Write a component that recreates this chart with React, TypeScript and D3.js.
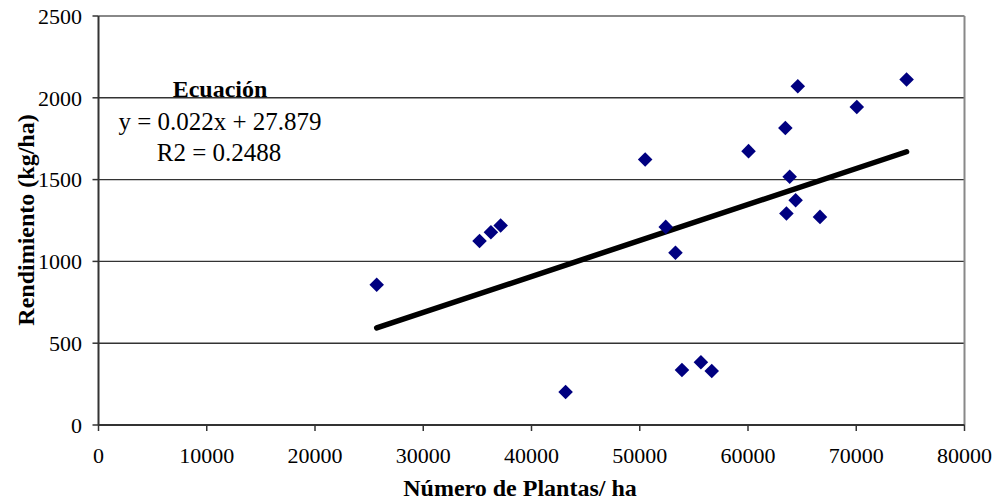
import React from "react";
import * as d3 from "d3";

const plantas: number[] = [25700, 35200, 36250, 37150, 43150, 50500, 52400, 53300, 53900, 55650, 56650, 60050, 63450, 63550, 63850, 64400, 64600, 66650, 70050, 74650];
const rendimiento: number[] = [857, 1125, 1178, 1220, 202, 1623, 1211, 1053, 336, 383, 330, 1674, 1816, 1293, 1517, 1374, 2071, 1272, 1944, 2112];
const xTicks: number[] = [0, 10000, 20000, 30000, 40000, 50000, 60000, 70000, 80000];
const yTicks: number[] = [0, 500, 1000, 1500, 2000, 2500];
const slope = 0.022;
const intercept = 27.879;
const eqTitle = "Ecuación";
const eqLine = "y = 0.022x + 27.879";
const r2Line = "R2 = 0.2488";
const xTitle = "Número de Plantas/ ha";
const yTitle = "Rendimiento (kg/ha)";

export default function App() {
  const W = 997, H = 500;
  const left = 98.5, right = 964.5, top = 16, bottom = 425;
  const x = d3.scaleLinear().domain([0, 80000]).range([left, right]);
  const y = d3.scaleLinear().domain([0, 2500]).range([bottom, top]);
  const font = "'Liberation Serif', 'Times New Roman', serif";
  const xMin = d3.min(plantas) as number;
  const xMax = d3.max(plantas) as number;
  const line = d3.line<number>().x((d) => x(d)).y((d) => y(slope * d + intercept));
  const diamond = d3.symbol().type(d3.symbolDiamond2).size(135)();
  return (
    <svg width={W} height={H} style={{ position: "absolute", left: 0, top: 0, background: "#fff" }} fontFamily={font}>
      {yTicks.filter((t) => t > 0 && t < 2500).map((t) => (
        <line key={"g" + t} x1={left} x2={right} y1={y(t)} y2={y(t)} stroke="#333" strokeWidth={1.4} />
      ))}
      <line x1={left} x2={right} y1={top} y2={top} stroke="#888" strokeWidth={2} />
      <line x1={right} x2={right} y1={top} y2={bottom} stroke="#888" strokeWidth={2} />
      <line x1={left} x2={left} y1={top} y2={bottom} stroke="#333" strokeWidth={2} />
      <line x1={left} x2={right} y1={bottom} y2={bottom} stroke="#333" strokeWidth={2} />
      {yTicks.map((t) => (
        <g key={"y" + t}>
          <line x1={left - 6} x2={left} y1={y(t)} y2={y(t)} stroke="#333" strokeWidth={1.5} />
          <text x={82} y={y(t)} dy="0.35em" textAnchor="end" fontSize={22} fill="#000">{t}</text>
        </g>
      ))}
      {xTicks.map((t) => (
        <g key={"x" + t}>
          <line x1={x(t)} x2={x(t)} y1={bottom} y2={bottom + 6} stroke="#333" strokeWidth={1.5} />
          <text x={x(t)} y={463} textAnchor="middle" fontSize={22} fill="#000">{t}</text>
        </g>
      ))}
      <path d={line([xMin, xMax]) as string} stroke="#000" strokeWidth={5.5} strokeLinecap="round" fill="none" />
      {plantas.map((p, i) => (
        <path key={"p" + i} d={diamond as string} transform={`translate(${x(p)},${y(rendimiento[i])})`} fill="#000080" />
      ))}
      <text x={220} y={97} textAnchor="middle" fontSize={24} fontWeight="bold" fill="#000">{eqTitle}</text>
      <text x={220} y={130} textAnchor="middle" fontSize={25} fill="#000">{eqLine}</text>
      <text x={219} y={161} textAnchor="middle" fontSize={25} fill="#000">{r2Line}</text>
      <text x={520} y={496} textAnchor="middle" fontSize={24} fontWeight="bold" fill="#000">{xTitle}</text>
      <text transform={`translate(34,220) rotate(-90)`} textAnchor="middle" fontSize={24} fontWeight="bold" fill="#000">{yTitle}</text>
    </svg>
  );
}
